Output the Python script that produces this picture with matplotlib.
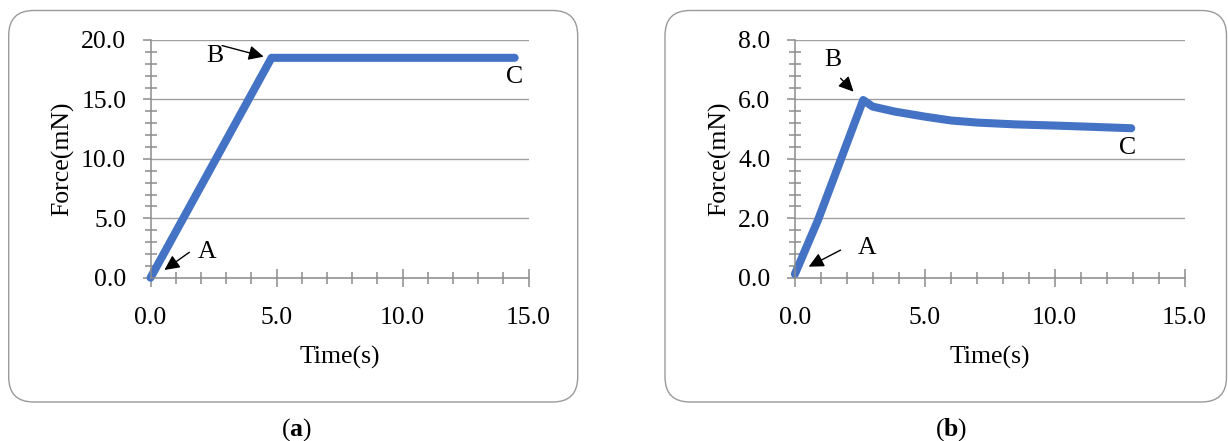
import numpy as np
import matplotlib
matplotlib.use('Agg')
import matplotlib.pyplot as plt
from matplotlib.patches import FancyBboxPatch
from matplotlib.transforms import IdentityTransform
from matplotlib.ticker import MultipleLocator, FormatStrFormatter

plt.rcParams['font.family'] = ['Liberation Serif', 'DejaVu Serif']
plt.rcParams['mathtext.fontset'] = 'custom'
plt.rcParams['mathtext.rm'] = 'Liberation Serif'
plt.rcParams['mathtext.bf'] = 'Liberation Serif:bold'

# panel (a): force ramps up then holds
time_a = [0.0, 4.80, 14.45]
force_a = [0.0, 18.5, 18.5]

# panel (b): force ramps up then relaxes
time_b = [0.0, 0.89, 2.63, 2.99, 3.85, 5.01, 6.02, 7.03, 8.48, 10.02, 11.36, 12.95]
force_b = [0.12, 1.94, 5.98, 5.76, 5.59, 5.42, 5.29, 5.22, 5.16, 5.12, 5.08, 5.03]

# annotations: (label, text pos, arrow tail, arrow head)
notes_a = [('A', (2.25, 2.16), (1.54, 2.14), (0.55, 0.65)),
           ('B', (2.57, 18.66), (2.84, 19.53), (4.49, 18.6)),
           ('C', (14.46, 16.9), None, None)]
notes_b = [('A', (2.77, 0.99), (1.76, 0.93), (0.53, 0.37)),
           ('B', (1.47, 7.33), (1.76, 6.71), (2.26, 6.26)),
           ('C', (12.8, 4.36), None, None)]

line_col = '#4472C4'
gray = '#8c8c8c'
fs = 18.5

fig = plt.figure(figsize=(12.28, 4.41), dpi=100)

# rounded frames around each panel (pixel coords)
for x0, x1 in [(8.7, 577.7), (665, 1226.5)]:
    box = FancyBboxPatch((x0, 39), x1 - x0, 391.5,
                         boxstyle='round,pad=0,rounding_size=25',
                         transform=IdentityTransform(), facecolor='none',
                         edgecolor='#9a9a9a', linewidth=1.0)
    fig.add_artist(box)

ax1 = fig.add_axes([0.1226, 0.3703, 0.3078, 0.5390])
ax2 = fig.add_axes([0.6473, 0.3703, 0.3173, 0.5390])


def style_axes(ax, ymax, ystep, yminor):
    ax.set_xlim(0, 15)
    ax.set_ylim(0, ymax)
    ax.xaxis.set_major_locator(MultipleLocator(5))
    ax.xaxis.set_minor_locator(MultipleLocator(1))
    ax.yaxis.set_major_locator(MultipleLocator(ystep))
    ax.yaxis.set_minor_locator(MultipleLocator(yminor))
    ax.xaxis.set_major_formatter(FormatStrFormatter('%.1f'))
    ax.yaxis.set_major_formatter(FormatStrFormatter('%.1f'))
    for s in ['top', 'right']:
        ax.spines[s].set_visible(False)
    for s in ['left', 'bottom']:
        ax.spines[s].set_color(gray)
        ax.spines[s].set_linewidth(1.1)
    ax.grid(axis='y', color='#a0a0a0', linewidth=1.0)
    ax.set_axisbelow(True)
    ax.tick_params(axis='x', which='major', direction='inout', length=12.5,
                   width=1.1, color=gray, labelsize=fs, pad=15)
    ax.tick_params(axis='x', which='minor', direction='inout', length=8.4,
                   width=1.1, color=gray)
    ax.tick_params(axis='y', which='major', direction='out', length=5.5,
                   width=1.1, color=gray, labelsize=fs, pad=12)
    ax.tick_params(axis='y', which='minor', direction='inout', length=8.6,
                   width=1.1, color=gray)
    ax.set_xlabel('Time(s)', fontsize=fs, labelpad=12)
    ax.set_ylabel('Force(mN)', fontsize=fs, labelpad=5)


def add_notes(ax, notes):
    for lab, tpos, tail, head in notes:
        ax.text(tpos[0], tpos[1], lab, fontsize=fs, ha='center', va='center')
        if tail is not None:
            ax.annotate('', xy=head, xytext=tail,
                        arrowprops=dict(arrowstyle='-|>,head_length=0.45,head_width=0.22',
                                        color='black', lw=1.0, mutation_scale=20,
                                        shrinkA=0, shrinkB=0))


style_axes(ax1, 20, 5, 1)
ax1.plot(time_a, force_a, color=line_col, linewidth=5.8,
         solid_capstyle='round', solid_joinstyle='round', clip_on=False)
add_notes(ax1, notes_a)

style_axes(ax2, 8, 2, 0.4)
ax2.plot(time_b, force_b, color=line_col, linewidth=5.8,
         solid_capstyle='round', solid_joinstyle='round', clip_on=False)
add_notes(ax2, notes_b)

fig.text(296 / 1228, 1 - 430 / 441, r'($\mathbf{a}$)', fontsize=fs,
         ha='center', va='center')
fig.text(951 / 1228, 1 - 430 / 441, r'($\mathbf{b}$)', fontsize=fs,
         ha='center', va='center')

plt.savefig('out.png', dpi=100)
